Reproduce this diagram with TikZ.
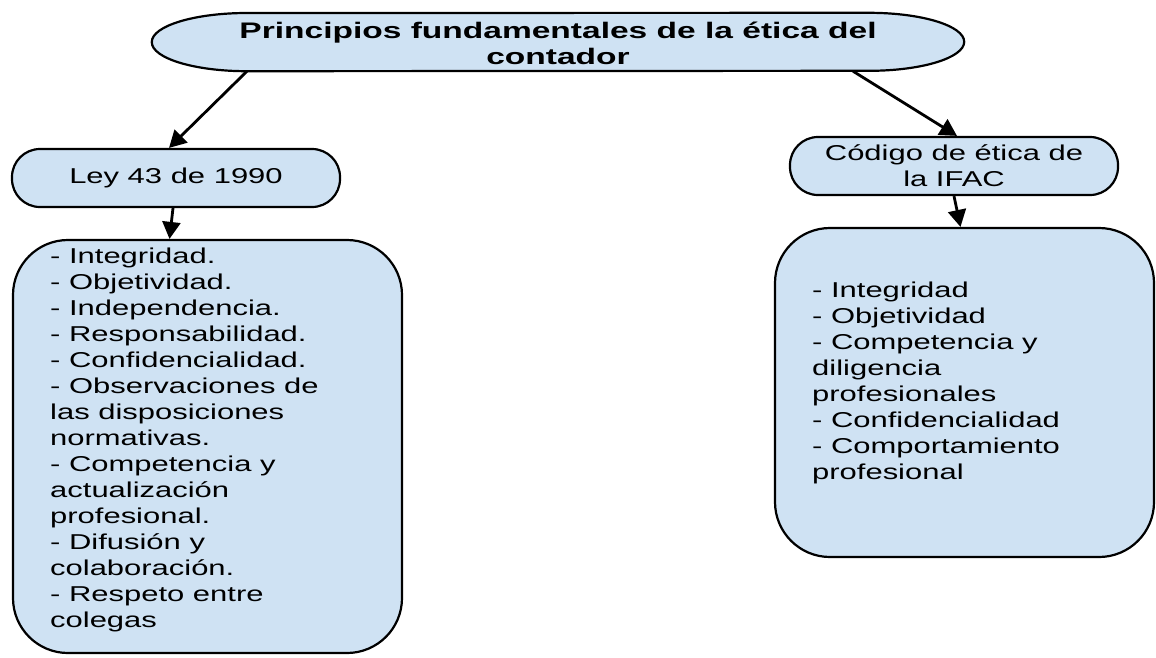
\documentclass[tikz,border=0pt]{standalone}
\usepackage{fontspec}
\setmainfont[FakeStretch=1.44]{Liberation Sans}
\newfontfamily\titlefont[FakeStretch=1.49]{Liberation Sans}
\usetikzlibrary{shapes.geometric,arrows.meta}
\definecolor{boxblue}{HTML}{CFE2F3}
\tikzset{
  blob/.style={draw=black, line width=2.2pt, fill=boxblue},
  pill/.style={blob, rectangle, rounded corners=28pt, minimum width=328pt, minimum height=58pt, inner sep=0pt, font=\fontsize{21.5}{26}\selectfont, align=center},
  bigbox/.style={blob, rectangle, rounded corners=55pt, inner sep=0pt},
  bodytext/.style={inner sep=0pt, anchor=north west, align=left, font=\fontsize{21.5}{26}\selectfont},
  conn/.style={line width=2.8pt, -{Triangle[length=17pt,width=18pt]}}
}
\begin{document}
\begin{tikzpicture}[x=1pt,y=-1pt]
\useasboundingbox (0,0) rectangle (1156,657);
% top shape
\node[rectangle, minimum width=812pt, minimum height=58pt, inner sep=0pt] (title) at (558,42) {};
\path[blob] (title.west) arc[start angle=180, end angle=90, x radius=95pt, y radius=29pt]
  -- ([xshift=-95pt]title.north east) arc[start angle=90, end angle=-90, x radius=95pt, y radius=29pt]
  -- ([xshift=95pt]title.south west) arc[start angle=270, end angle=180, x radius=95pt, y radius=29pt] -- cycle;
\node[font=\titlefont\bfseries\fontsize{22.5}{26}\selectfont, align=center, inner sep=0pt] (ttext) at (558,43) {Principios fundamentales de la ética del\\contador};
% second level
\node[pill] (ley) at (176,178) {Ley 43 de 1990};
\node[pill] (ifac) at (954,166) {Código de ética de\\la IFAC};
% big boxes
\node[bigbox, minimum width=389pt, minimum height=413pt] (lbox) at (207.5,446.5) {};
\node[bigbox, minimum width=379pt, minimum height=329pt] (rbox) at (964.5,392.5) {};
\node[bodytext] (ltext) at (50,248) {- Integridad.\\- Objetividad.\\- Independencia.\\- Responsabilidad.\\- Confidencialidad.\\- Observaciones de\\las disposiciones\\normativas.\\- Competencia y\\actualización\\profesional.\\- Difusión y\\colaboración.\\- Respeto entre\\colegas};
\node[bodytext] (rtext) at (812,282) {- Integridad\\- Objetividad\\- Competencia y\\diligencia\\profesionales\\- Confidencialidad\\- Comportamiento\\profesional};
% connectors
\draw[conn] ([xshift=-311pt]title.south) -- ([xshift=-7pt]ley.north);
\draw[conn] ([xshift=295pt]title.south) -- ([xshift=3pt]ifac.north);
\draw[conn] ([xshift=-3pt]ley.south) -- ([xshift=-38pt]lbox.north);
\draw[conn] (ifac.south) -- ([xshift=-4pt]rbox.north);
\end{tikzpicture}
\end{document}
